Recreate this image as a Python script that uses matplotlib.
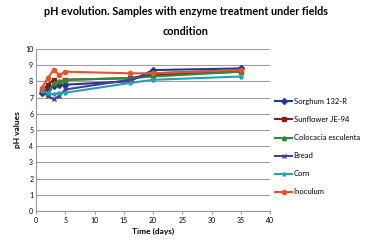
import numpy as np
import matplotlib
matplotlib.use('Agg')
import matplotlib.pyplot as plt

plt.rcParams['font.family'] = ['Lato', 'DejaVu Sans']

days = [1, 2, 3, 4, 5, 16, 20, 35]
sorghum = [7.3, 7.5, 7.7, 7.8, 7.8, 8.0, 8.7, 8.8]
sunflower = [7.4, 7.8, 8.1, 7.9, 8.1, 8.2, 8.4, 8.6]
colocacia = [7.5, 7.2, 7.9, 8.0, 8.1, 8.2, 8.3, 8.6]
bread = [7.5, 7.1, 6.9, 7.1, 7.5, 8.1, 8.5, 8.7]
corn = [7.4, 7.3, 7.2, 7.3, 7.3, 7.9, 8.1, 8.3]
inoculum = [7.6, 8.2, 8.7, 8.4, 8.6, 8.5, 8.5, 8.7]

names = ['Sorghum 132-R', 'Sunflower JE-94', 'Colocacia esculenta', 'Bread', 'Corn', 'Inoculum']
series = [sorghum, sunflower, colocacia, bread, corn, inoculum]
colors = ['#1f3a93', '#8b1a1a', '#2e8b3a', '#4a3d9c', '#2a9fb0', '#e8542a']
markers = ['D', 's', '^', 'x', '*', 'o']

fig = plt.figure(figsize=(3.71, 2.47), dpi=100)
ax = fig.add_axes([36/371, 36/247, 234/371, 162/247])
for y, n, c, m in zip(series, names, colors, markers):
    ax.plot(days, y, color=c, marker=m, ms=3, lw=1.5, label=n)

ax.set_xlim(0, 40)
ax.set_ylim(0, 10)
ax.set_xticks(range(0, 41, 5))
ax.set_yticks(range(0, 11))
ax.grid(axis='y', color='#a0a0a0', lw=0.8)
ax.set_axisbelow(True)
for s in ['top', 'right']:
    ax.spines[s].set_visible(False)
for s in ['left', 'bottom']:
    ax.spines[s].set_color('#999999')
ax.tick_params(labelsize=5, length=2, color='#999999', pad=2)
ax.tick_params(axis='y', length=0)
ax.set_xlabel('Time (days)', fontsize=6, fontweight='bold', labelpad=3)
ax.set_ylabel('pH values', fontsize=6, fontweight='bold', labelpad=3)

fig.text(0.5, 0.912, 'pH evolution. Samples with enzyme treatment under fields\ncondition',
         ha='center', va='center', fontsize=7.8, fontweight='bold', linespacing=2.0)

ax.legend(loc='upper left', bbox_to_anchor=(1.0, 0.73), frameon=False, fontsize=5.5,
          handlelength=2.2, labelspacing=1.45, handletextpad=0.2, borderaxespad=0.3)

fig.savefig('out.png', dpi=100)
